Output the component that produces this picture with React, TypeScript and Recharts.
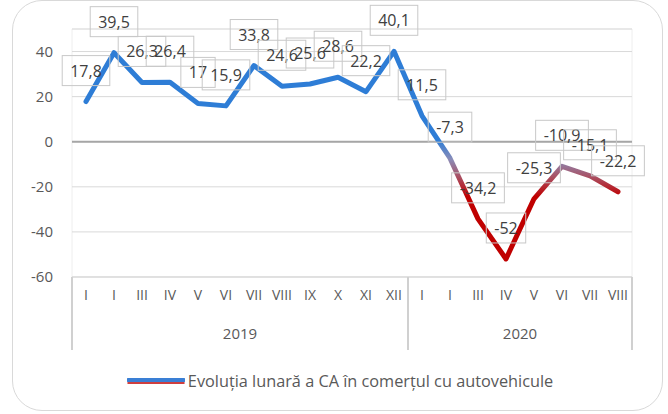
import {
  LineChart,
  Line,
  XAxis,
  YAxis,
  CartesianGrid,
  ReferenceLine,
  LabelList,
  Legend,
} from "recharts";

const months = ["I", "I", "III", "IV", "V", "VI", "VII", "VIII", "IX", "X", "XI", "XII", "I", "I", "III", "IV", "V", "VI", "VII", "VIII"];
const years = ["2019", "2020"];
const monthsPerYear = [12, 8];
const values = [17.8, 39.5, 26.3, 26.4, 17, 15.9, 33.8, 24.6, 25.6, 28.6, 22.2, 40.1, 11.5, -7.3, -34.2, -52, -25.3, -10.9, -15.1, -22.2];
const seriesName = "Evoluția lunară a CA în comerțul cu autovehicule";
const yTicks = [-60, -40, -20, 0, 20, 40];

const FONT = "'Open Sans', sans-serif";
const n = values.length;

const data = values.map((v, i) => ({ x: i + 0.5, v }));

// minor grid: every half month, every 4 units
const minorX: number[] = [];
for (let i = 0; i <= n * 2; i++) minorX.push(i / 2);
const minorY: number[] = [];
for (let v = -60; v < 50; v += 4) minorY.push(v);
minorY.push(50);

// year separators and centres
const sepTicks = [0];
const yearCentres: number[] = [];
monthsPerYear.reduce((acc, c) => {
  yearCentres.push(acc + c / 2);
  sepTicks.push(acc + c);
  return acc + c;
}, 0);
const yearAxisTicks = [...sepTicks, ...yearCentres].sort((a, b) => a - b);

const fmt = (v: number) => String(v).replace(".", ",");

let ctx: CanvasRenderingContext2D | null = null;
const measure = (t: string) => {
  if (!ctx) ctx = document.createElement("canvas").getContext("2d");
  if (!ctx) return t.length * 9;
  ctx.font = `16px ${FONT}`;
  return ctx.measureText(t).width;
};

const DataLabel = (props: any) => {
  const { x, y, value } = props;
  const text = fmt(value);
  const w = measure(text) + 16;
  return (
    <g>
      <rect x={x - w / 2} y={y - 46} width={w} height={30} fill="none" stroke="#C8C8C8" />
      <text x={x} y={y - 31} textAnchor="middle" dominantBaseline="central" fontSize={16} fontFamily={FONT} fill="#404040">
        {text}
      </text>
    </g>
  );
};

// year axis: separator lines at year boundaries, year names at the centres
const YearTick = (props: any) => {
  const { x, y, payload } = props;
  const v = payload.value;
  if (sepTicks.includes(v)) {
    return <line x1={x} x2={x} y1={y - 44} y2={y + 29} stroke="#D0D0D0" strokeWidth={2} />;
  }
  return (
    <text x={x} y={y + 18} textAnchor="middle" fontSize={15} fontFamily={FONT} fill="#595959">
      {years[yearCentres.indexOf(v)]}
    </text>
  );
};

const LegendContent = () => (
  <div style={{ display: "flex", justifyContent: "center", alignItems: "center", height: 40, paddingLeft: 36 }}>
    <svg width={58} height={10}>
      <line x1={1} y1={4} x2={57} y2={4} stroke="#3A7FD5" strokeWidth={4} strokeLinecap="round" />
      <line x1={1} y1={7} x2={57} y2={7} stroke="#C00000" strokeWidth={1.5} strokeLinecap="round" />
    </svg>
    <span style={{ fontFamily: FONT, fontSize: 16.3, color: "#595959", marginLeft: 3 }}>{seriesName}</span>
  </div>
);

export default function App() {
  return (
    <div style={{ position: "relative", width: 668, height: 414 }}>
      <style>{`body{margin:0}`}</style>
      <div
        style={{
          position: "absolute",
          left: 12,
          top: 0,
          width: 651,
          height: 411,
          border: "1px solid #D9D9D9",
          borderRadius: 30,
          boxSizing: "border-box",
        }}
      />
      <LineChart width={668} height={414} data={data} margin={{ top: 29, right: 36, left: 12, bottom: 13 }}>
        <defs>
          <linearGradient id="lineGrad" x1="0" y1="0" x2="0" y2="1">
            <stop offset="0.43" stopColor="#2E7DD6" />
            <stop offset="0.52" stopColor="#8A8CB8" />
            <stop offset="0.60" stopColor="#A85468" />
            <stop offset="0.70" stopColor="#C00000" />
          </linearGradient>
        </defs>
        <XAxis xAxisId="gx" dataKey="x" type="number" domain={[0, n]} ticks={minorX} height={0} tick={false} tickLine={false} axisLine={false} />
        <YAxis yAxisId="gy" type="number" domain={[-60, 50]} ticks={minorY} width={0} tick={false} tickLine={false} axisLine={false} />
        <CartesianGrid xAxisId="gx" yAxisId="gy" stroke="#EEEEEE" strokeWidth={1} />
        <CartesianGrid vertical={false} stroke="#D9D9D9" strokeWidth={1} />
        <XAxis
          dataKey="x"
          type="number"
          domain={[0, n]}
          ticks={data.map((d) => d.x)}
          interval={0}
          tickFormatter={(v: number) => months[Math.floor(v)]}
          height={44}
          tickLine={false}
          tickSize={0}
          tickMargin={13}
          axisLine={{ stroke: "#D9D9D9" }}
          tick={{ fontSize: 14, fill: "#595959", fontFamily: FONT }}
        />
        <XAxis
          xAxisId="yr"
          dataKey="x"
          type="number"
          domain={[0, n]}
          ticks={yearAxisTicks}
          interval={0}
          height={40}
          tickLine={false}
          axisLine={false}
          tickSize={0}
          tickMargin={0}
          tick={YearTick}
        />
        <YAxis
          type="number"
          domain={[-60, 50]}
          ticks={yTicks}
          width={60}
          tickLine={false}
          axisLine={false}
          tickSize={0}
          tickMargin={19}
          tick={{ fontSize: 15, fill: "#595959", fontFamily: FONT }}
        />
        <ReferenceLine y={0} stroke="#A6A6A6" strokeWidth={2} />
        <Line
          dataKey="v"
          name={seriesName}
          type="linear"
          stroke="url(#lineGrad)"
          strokeWidth={5}
          strokeLinejoin="round"
          strokeLinecap="round"
          dot={false}
          isAnimationActive={false}
        >
          <LabelList dataKey="v" content={DataLabel} />
        </Line>
        <Legend verticalAlign="bottom" height={40} content={LegendContent} />
      </LineChart>
    </div>
  );
}
